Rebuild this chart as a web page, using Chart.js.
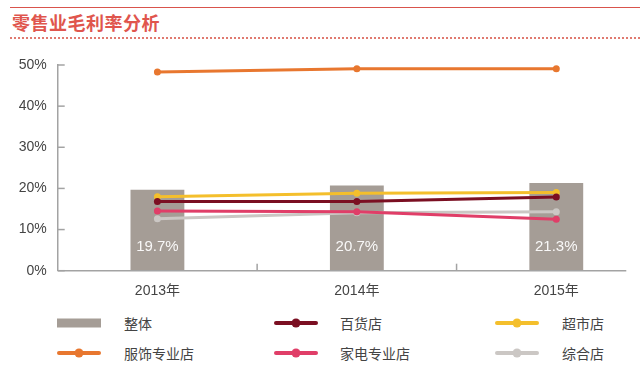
<!DOCTYPE html>
<html>
<head>
<meta charset="utf-8">
<script src="https://cdn.jsdelivr.net/npm/chart.js@4.4.0/dist/chart.umd.min.js"></script>
<style>
  html,body{margin:0;padding:0;background:#fff;}
  #wrap{position:relative;width:640px;height:367px;overflow:hidden;background:#fff;}
  #topline{position:absolute;left:10px;top:7px;width:630px;border-top:1.5px solid #d9544c;}
  #title{position:absolute;left:12px;top:9px;font:bold 18px "Noto Sans CJK SC",sans-serif;color:#e0554d;line-height:26px;letter-spacing:0.5px;}
  #dotline{position:absolute;left:10px;top:37px;width:630px;border-top:2px dotted #e07a70;}
  #c{position:absolute;left:0;top:0;}
  .lg{position:absolute;height:20px;}
  .lg .sw{position:absolute;left:0;top:0;width:44px;height:20px;}
  .lg .tx{position:absolute;top:0;line-height:20px;font:14px "Noto Sans CJK SC",sans-serif;color:#444;white-space:nowrap;}
</style>
</head>
<body>
<div id="wrap">
  <div id="topline"></div>
  <div id="title">零售业毛利率分析</div>
  <div id="dotline"></div>
  <canvas id="c" width="660" height="305"></canvas>
  <div id="legend"></div>
</div>
<script>
// ---- data ----
const categories = ['2013年', '2014年', '2015年'];
const overall = [19.7, 20.7, 21.3];          // 整体
const deptStore = [16.8, 16.8, 17.9];        // 百货店
const supermarket = [18.0, 18.8, 19.0];      // 超市店
const apparel = [48.3, 49.1, 49.1];          // 服饰专业店
const appliance = [14.5, 14.3, 12.5];        // 家电专业店
const generalStore = [12.6, 14.1, 14.3];     // 综合店
const yTickValues = [0, 10, 20, 30, 40, 50];
const seriesNames = ['整体', '百货店', '超市店', '服饰专业店', '家电专业店', '综合店'];

const AXIS = '#a3a3a3';
const FONT = '"Liberation Sans", "Noto Sans CJK SC", sans-serif';

function lineDs(label, data, color, lw) {
  return {
    type: 'line', label, data,
    borderColor: color, backgroundColor: color,
    borderWidth: lw, pointRadius: 3.5, pointBorderWidth: 0,
    pointBackgroundColor: color, tension: 0, order: 0, fill: false
  };
}

const decor = {
  id: 'decor',
  afterDatasetsDraw(chart) {
    const ctx = chart.ctx, x = chart.scales.x, y = chart.scales.y, a = chart.chartArea;
    ctx.save();
    // x axis line
    ctx.strokeStyle = AXIS; ctx.lineWidth = 1.5;
    ctx.beginPath();
    ctx.moveTo(a.left, a.bottom);
    ctx.lineTo(x.getPixelForValue(2) + 70, a.bottom);
    ctx.stroke();
    // inner tick marks on x (between categories)
    for (let i = 1; i < categories.length; i++) {
      const px = (x.getPixelForValue(i - 1) + x.getPixelForValue(i)) / 2;
      ctx.beginPath(); ctx.moveTo(px, a.bottom); ctx.lineTo(px, a.bottom - 7); ctx.stroke();
    }
    // inner tick marks on y
    yTickValues.forEach(v => {
      const py = y.getPixelForValue(v);
      ctx.beginPath(); ctx.moveTo(a.left, py); ctx.lineTo(a.left + 7, py); ctx.stroke();
    });
    // bar value labels
    const meta = chart.getDatasetMeta(0);
    ctx.fillStyle = 'rgba(255,255,255,0.93)';
    ctx.font = '15px ' + FONT;
    ctx.textAlign = 'center'; ctx.textBaseline = 'middle';
    meta.data.forEach((el, i) => {
      ctx.fillText(overall[i].toFixed(1) + '%', el.x, el.base - 24);
    });
    ctx.restore();
  }
};

const chart = new Chart(document.getElementById('c'), {
  data: {
    labels: categories,
    datasets: [
      { type: 'bar', label: seriesNames[0], data: overall, backgroundColor: '#a59d96',
        barPercentage: 0.27, categoryPercentage: 1, order: 1 },
      lineDs(seriesNames[1], deptStore, '#7b0f22', 3),
      lineDs(seriesNames[2], supermarket, '#f4bf2c', 3),
      lineDs(seriesNames[3], apparel, '#e8772f', 3),
      lineDs(seriesNames[4], appliance, '#e03e68', 3),
      lineDs(seriesNames[5], generalStore, '#cbc7c4', 3)
    ]
  },
  options: {
    responsive: false,
    animation: false,
    layout: { padding: { top: 65, right: 2.3, left: 0, bottom: 0 } },
    plugins: { legend: { display: false }, tooltip: { enabled: false } },
    scales: {
      x: {
        type: 'category', offset: true,
        grid: { display: false, drawTicks: false },
        border: { display: false },
        ticks: { color: '#444', font: { family: FONT, size: 14 }, padding: 12 },
        afterFit(s) { s.height = 305 - 270.7; }
      },
      y: {
        min: 0, max: 50,
        afterBuildTicks(s) { s.ticks = yTickValues.map(v => ({ value: v })); },
        grid: { display: false, drawTicks: false },
        border: { display: true, color: AXIS, width: 1.5 },
        ticks: { color: '#444', font: { family: FONT, size: 14 }, padding: 11,
                 callback: v => v + '%' },
        afterFit(s) { s.width = 57.7; }
      }
    }
  },
  plugins: [decor]
});

// HTML legend built from the chart's datasets
(function buildLegend() {
  const cols = [57, 274, 495];
  const rows = [313, 343];
  const textOff = [67, 66, 67];
  const host = document.getElementById('legend');
  chart.data.datasets.forEach((ds, i) => {
    const c = i % 3, r = Math.floor(i / 3);
    const item = document.createElement('div');
    item.className = 'lg';
    item.style.left = cols[c] + 'px';
    item.style.top = rows[r] + 'px';
    const sw = document.createElement('canvas');
    sw.width = 44; sw.height = 20; sw.className = 'sw';
    const g = sw.getContext('2d');
    const col = ds.type === 'bar' ? ds.backgroundColor : ds.borderColor;
    g.fillStyle = col; g.strokeStyle = col;
    if (ds.type === 'bar') {
      g.fillRect(0, 5.5, 44, 9);
    } else {
      g.lineWidth = 4; g.lineCap = 'round';
      g.beginPath(); g.moveTo(2, 10); g.lineTo(42, 10); g.stroke();
      g.beginPath(); g.arc(22, 10, 4.5, 0, Math.PI * 2); g.fill();
    }
    item.appendChild(sw);
    const tx = document.createElement('div');
    tx.className = 'tx'; tx.style.left = textOff[c] + 'px';
    tx.textContent = ds.label;
    item.appendChild(tx);
    host.appendChild(item);
  });
})();
</script>
</body>
</html>
